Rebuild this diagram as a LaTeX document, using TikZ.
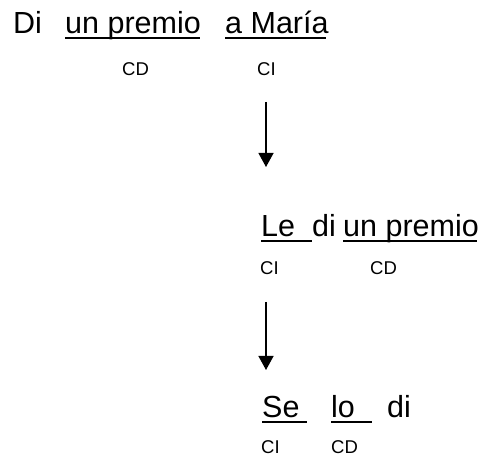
\documentclass[tikz,border=0pt]{standalone}
\usepackage{fontspec}
\setmainfont{Liberation Sans}
\usetikzlibrary{arrows.meta}

\tikzset{
  word/.style={anchor=base west, inner sep=0pt, font=\fontsize{30.5}{33}\selectfont},
  tag/.style={anchor=base west, inner sep=0pt, font=\fontsize{18.5}{20}\selectfont},
  uline/.style={line width=2.5pt},
  flow/.style={line width=1.3pt, -{Triangle[width=15pt,length=14pt]}}
}

\begin{document}
\begin{tikzpicture}[x=1pt,y=1pt]
\useasboundingbox (0,0) rectangle (480,460);

% First sentence
\node[word] (di1) at (13,426) {Di};
\node[word] (cd1w) at (65,426) {un premio};
\node[word] (ci1w) at (225,426) {a María};
\draw[uline] ([yshift=-4pt]cd1w.base west) -- ++(135,0);
\draw[uline] ([yshift=-4pt]ci1w.base west) -- ++(101,0);
\node[tag] (cd1) at (122,384) {CD};
\node[tag] (ci1) at (257,384) {CI};

% Arrow down
\coordinate (a1top) at (266,358);
\coordinate (a1end) at (266,293);
\draw[flow] (a1top) -- (a1end);

% Second sentence
\node[word] (ci2w) at (261,223) {Le};
\node[word] (di2) at (312,223) {di};
\node[word] (cd2w) at (343,223) {un premio};
\draw[uline] ([yshift=-4pt]ci2w.base west) -- ++(51,0);
\draw[uline] ([yshift=-4pt]cd2w.base west) -- ++(134,0);
\node[tag] (ci2) at (260,185) {CI};
\node[tag] (cd2) at (370,185) {CD};

% Arrow down
\coordinate (a2top) at (266,158);
\coordinate (a2end) at (266,90);
\draw[flow] (a2top) -- (a2end);

% Third sentence
\node[word] (ci3w) at (262,42) {Se};
\node[word] (cd3w) at (331,42) {lo};
\node[word] (di3) at (387,42) {di};
\draw[uline] ([yshift=-4pt]ci3w.base west) -- ++(45,0);
\draw[uline] ([yshift=-4pt]cd3w.base west) -- ++(41,0);
\node[tag] (ci3) at (261,6) {CI};
\node[tag] (cd3) at (331,6) {CD};

\end{tikzpicture}
\end{document}
